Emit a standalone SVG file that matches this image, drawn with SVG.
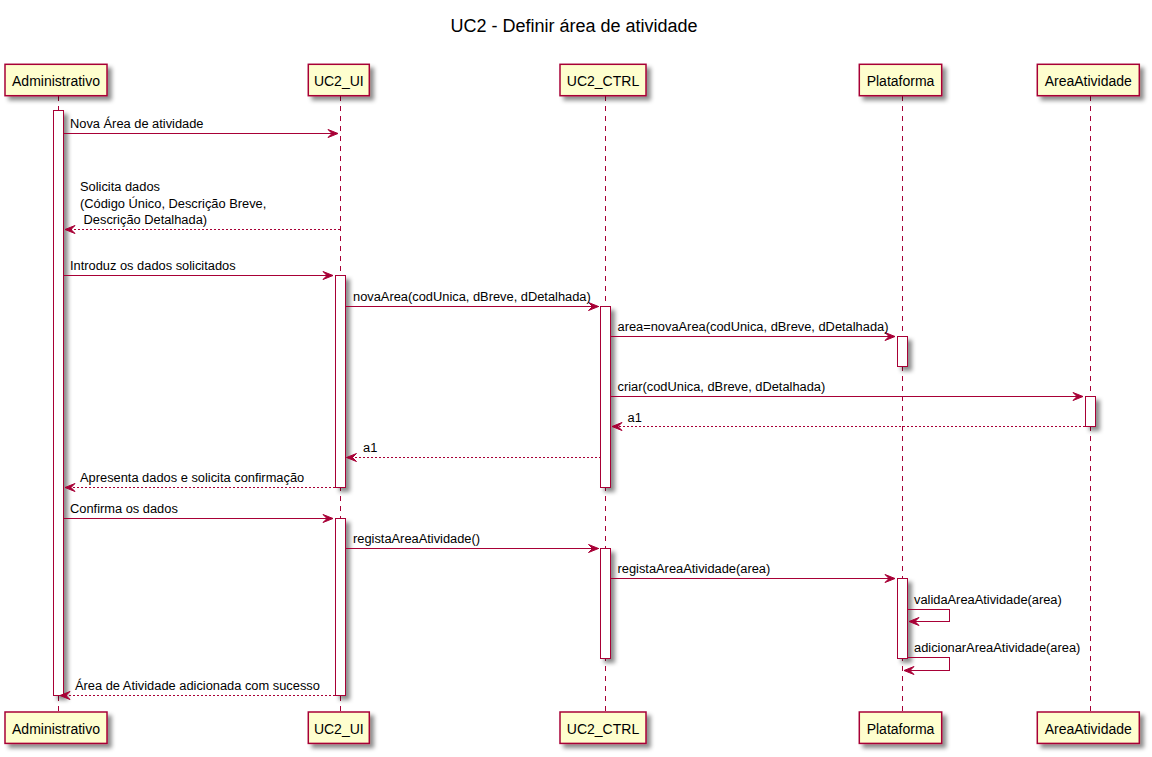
<svg xmlns="http://www.w3.org/2000/svg" width="1152" height="757" viewBox="0 0 1152 757">
<style>
  .p rect { fill: #FEFECE; stroke: #A80036; stroke-width: 1.5; }
  .p text { font-family: "Liberation Sans", Arial, sans-serif; font-size: 14px; fill: #000; text-anchor: middle; }
  .life { stroke: #A80036; stroke-width: 1; stroke-dasharray: 5,5; fill: none; shape-rendering: crispEdges; }
  .act { fill: #FFFFFF; stroke: #A80036; stroke-width: 1; }
  .msg { stroke: #A80036; stroke-width: 1; fill: none; shape-rendering: crispEdges; }
  .ret { stroke: #A80036; stroke-width: 1; fill: none; stroke-dasharray: 2,2; shape-rendering: crispEdges; }
  .ah { fill: #A80036; stroke: #A80036; stroke-width: 1; }
  .lbl { font-family: "Liberation Sans", Arial, sans-serif; font-size: 12.85px; fill: #000; }
  .title { font-family: "Liberation Sans", Arial, sans-serif; font-size: 18px; fill: #000; text-anchor: middle; }
</style>
<defs>
  <filter id="sh" x="-1" y="-1" width="300%" height="300%">
    <feGaussianBlur in="SourceAlpha" stdDeviation="2" result="b"/>
    <feColorMatrix in="b" type="matrix" values="0 0 0 0 0  0 0 0 0 0  0 0 0 0 0  0 0 0 0.45 0" result="c"/>
    <feOffset in="c" dx="4" dy="4" result="o"/>
    <feMerge><feMergeNode in="o"/><feMergeNode in="SourceGraphic"/></feMerge>
  </filter>
</defs>
<rect width="1152" height="757" fill="#FFFFFF"/>
<text class="title" x="574" y="31.5">UC2 - Definir área de atividade</text>

<g id="lifelines">
  <line class="life" x1="58.5" y1="96" x2="58.5" y2="712"/>
  <line class="life" x1="340.5" y1="96" x2="340.5" y2="712"/>
  <line class="life" x1="605.5" y1="96" x2="605.5" y2="712"/>
  <line class="life" x1="902.5" y1="96" x2="902.5" y2="712"/>
  <line class="life" x1="1090.5" y1="96" x2="1090.5" y2="712"/>
</g>

<g id="Administrativo" class="p">
  <rect x="5" y="64.3" width="102" height="31.4" filter="url(#sh)"/>
  <text x="56" y="85.5">Administrativo</text>
  <rect x="5" y="712" width="102" height="31.4" filter="url(#sh)"/>
  <text x="56" y="733.5">Administrativo</text>
</g>
<g id="UC2_UI" class="p">
  <rect x="308.3" y="64.3" width="61" height="31.4" filter="url(#sh)"/>
  <text x="338.8" y="85.5">UC2_UI</text>
  <rect x="308.3" y="712" width="61" height="31.4" filter="url(#sh)"/>
  <text x="338.8" y="733.5">UC2_UI</text>
</g>
<g id="UC2_CTRL" class="p">
  <rect x="560" y="64.3" width="86" height="31.4" filter="url(#sh)"/>
  <text x="603" y="85.5">UC2_CTRL</text>
  <rect x="560" y="712" width="86" height="31.4" filter="url(#sh)"/>
  <text x="603" y="733.5">UC2_CTRL</text>
</g>
<g id="Plataforma" class="p">
  <rect x="859.3" y="64.3" width="82.4" height="31.4" filter="url(#sh)"/>
  <text x="900.5" y="85.5">Plataforma</text>
  <rect x="859.3" y="712" width="82.4" height="31.4" filter="url(#sh)"/>
  <text x="900.5" y="733.5">Plataforma</text>
</g>
<g id="AreaAtividade" class="p">
  <rect x="1037.3" y="64.3" width="102" height="31.4" filter="url(#sh)"/>
  <text x="1088.3" y="85.5">AreaAtividade</text>
  <rect x="1037.3" y="712" width="102" height="31.4" filter="url(#sh)"/>
  <text x="1088.3" y="733.5">AreaAtividade</text>
</g>

<g id="activations">
  <rect class="act" x="53.5" y="110.5" width="10" height="585" filter="url(#sh)"/>
  <rect class="act" x="335.5" y="275.5" width="10" height="212" filter="url(#sh)"/>
  <rect class="act" x="335.5" y="518.5" width="10" height="177" filter="url(#sh)"/>
  <rect class="act" x="600.5" y="306.5" width="10" height="181" filter="url(#sh)"/>
  <rect class="act" x="600.5" y="548.5" width="10" height="110" filter="url(#sh)"/>
  <rect class="act" x="897.5" y="336.5" width="10" height="30" filter="url(#sh)"/>
  <rect class="act" x="897.5" y="578.5" width="10" height="80" filter="url(#sh)"/>
  <rect class="act" x="1085.5" y="396.5" width="10" height="30" filter="url(#sh)"/>
</g>

<g id="connectors">
  <line class="msg" x1="63" y1="133.5" x2="338" y2="133.5"/>
  <polygon class="ah" points="328,129.5 338,133.5 328,137.5 332,133.5"/>
  <text class="lbl" x="70" y="127.5">Nova Área de atividade</text>

  <line class="ret" x1="340" y1="229.5" x2="65" y2="229.5"/>
  <polygon class="ah" points="75,225.5 65,229.5 75,233.5 71,229.5"/>
  <text class="lbl" x="80" y="191">Solicita dados</text>
  <text class="lbl" x="80" y="207.7">(Código Único, Descrição Breve,</text>
  <text class="lbl" x="80" y="224.4" xml:space="preserve"> Descrição Detalhada)</text>

  <line class="msg" x1="63" y1="275.5" x2="333" y2="275.5"/>
  <polygon class="ah" points="323,271.5 333,275.5 323,279.5 327,275.5"/>
  <text class="lbl" x="70" y="269.5">Introduz os dados solicitados</text>

  <line class="msg" x1="345" y1="306.5" x2="598.5" y2="306.5"/>
  <polygon class="ah" points="588.5,302.5 598.5,306.5 588.5,310.5 592.5,306.5"/>
  <text class="lbl" x="353" y="300.5">novaArea(codUnica, dBreve, dDetalhada)</text>

  <line class="msg" x1="610.5" y1="336.5" x2="895" y2="336.5"/>
  <polygon class="ah" points="885,332.5 895,336.5 885,340.5 889,336.5"/>
  <text class="lbl" x="617.5" y="330.5">area=novaArea(codUnica, dBreve, dDetalhada)</text>

  <line class="msg" x1="610.5" y1="396.5" x2="1083" y2="396.5"/>
  <polygon class="ah" points="1073,392.5 1083,396.5 1073,400.5 1077,396.5"/>
  <text class="lbl" x="617.5" y="390.5">criar(codUnica, dBreve, dDetalhada)</text>

  <line class="ret" x1="1085" y1="426.5" x2="612" y2="426.5"/>
  <polygon class="ah" points="622,422.5 612,426.5 622,430.5 618,426.5"/>
  <text class="lbl" x="627.5" y="421.5">a1</text>

  <line class="ret" x1="600.5" y1="457.5" x2="346.5" y2="457.5"/>
  <polygon class="ah" points="356.5,453.5 346.5,457.5 356.5,461.5 352.5,457.5"/>
  <text class="lbl" x="363" y="452">a1</text>

  <line class="ret" x1="335" y1="487.5" x2="65" y2="487.5"/>
  <polygon class="ah" points="75,483.5 65,487.5 75,491.5 71,487.5"/>
  <text class="lbl" x="80" y="482">Apresenta dados e solicita confirmação</text>

  <line class="msg" x1="63" y1="518.5" x2="333" y2="518.5"/>
  <polygon class="ah" points="323,514.5 333,518.5 323,522.5 327,518.5"/>
  <text class="lbl" x="70" y="512.5">Confirma os dados</text>

  <line class="msg" x1="345" y1="548.5" x2="598.5" y2="548.5"/>
  <polygon class="ah" points="588.5,544.5 598.5,548.5 588.5,552.5 592.5,548.5"/>
  <text class="lbl" x="353" y="542.5">registaAreaAtividade()</text>

  <line class="msg" x1="610.5" y1="578.5" x2="895" y2="578.5"/>
  <polygon class="ah" points="885,574.5 895,578.5 885,582.5 889,578.5"/>
  <text class="lbl" x="617.5" y="572.5">registaAreaAtividade(area)</text>

  <polyline class="msg" points="907.5,609.5 949.5,609.5 949.5,621.5 909,621.5"/>
  <polygon class="ah" points="919,617.5 909,621.5 919,625.5 915,621.5"/>
  <text class="lbl" x="914" y="603.5">validaAreaAtividade(area)</text>

  <polyline class="msg" points="907.5,657.5 949.5,657.5 949.5,670.5 904,670.5"/>
  <polygon class="ah" points="914,666.5 904,670.5 914,674.5 910,670.5"/>
  <text class="lbl" x="914" y="652">adicionarAreaAtividade(area)</text>

  <line class="ret" x1="335" y1="695.5" x2="60" y2="695.5"/>
  <polygon class="ah" points="70,691.5 60,695.5 70,699.5 66,695.5"/>
  <text class="lbl" x="75" y="690">Área de Atividade adicionada com sucesso</text>
</g>
</svg>
